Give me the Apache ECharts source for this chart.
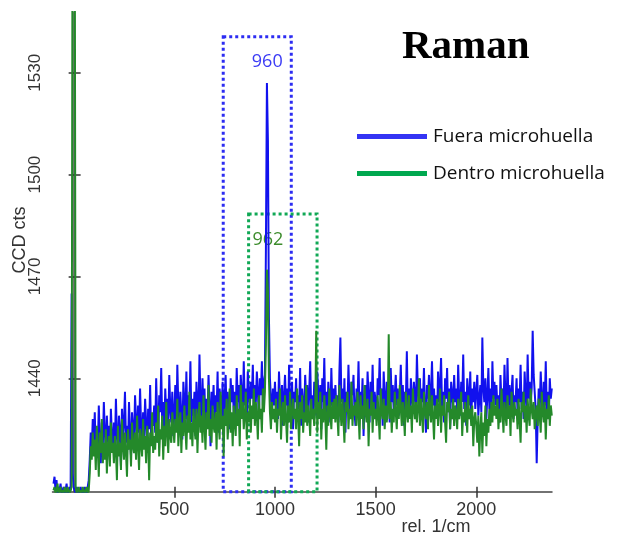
<!DOCTYPE html>
<html>
<head>
<meta charset="utf-8">
<script src="https://cdn.jsdelivr.net/npm/echarts@6/dist/echarts.min.js"></script>
<style>
  html, body { margin: 0; padding: 0; background: #fff; }
  #chart { width: 618px; height: 535px; }
</style>
</head>
<body>
<div id="chart"></div>
<script>
// 数据 波数从 -100 起, 每 5 rel. 1/cm 一个点, 每行 100 rel. 1/cm
const shiftStart = -100
const shiftStep = 5

// Fuera microhuella (蓝)
const fuera = [
  1409, 1411, 1407, 1410, 1406, 1408, 1407, 1409, 1406, 1407, 1408, 1406, 1407, 1409, 1406, 1407, 1408, 1407, 1465, 1412,
  1408, 1407, 1406, 1408, 1407, 1406, 1407, 1408, 1406, 1407, 1406, 1408, 1407, 1406, 1408, 1410, 1416, 1424, 1419, 1428,
  1421, 1430, 1417, 1425, 1419, 1432, 1422, 1415, 1427, 1420, 1433, 1424, 1418, 1429, 1421, 1426, 1416, 1431, 1423, 1419,
  1427, 1420, 1434, 1423, 1418, 1429, 1425, 1414, 1431, 1422, 1427, 1436, 1421, 1426, 1419, 1433, 1424, 1417, 1430, 1425,
  1421, 1435, 1428, 1419, 1432, 1424, 1437, 1426, 1420, 1430, 1423, 1434, 1427, 1418, 1431, 1425, 1438, 1422, 1429, 1426,
  1432, 1424, 1440, 1428, 1421, 1435, 1430, 1443, 1426, 1433, 1422, 1437, 1429, 1434, 1425, 1441, 1431, 1427, 1436, 1423,
  1430, 1438, 1425, 1444, 1432, 1427, 1436, 1429, 1422, 1439, 1433, 1428, 1442, 1426, 1435, 1431, 1445, 1427, 1434, 1429,
  1436, 1423, 1439, 1432, 1428, 1447, 1433, 1426, 1440, 1430, 1437, 1425, 1434, 1429, 1441, 1432, 1420, 1436, 1431, 1438,
  1427, 1435, 1430, 1442, 1424, 1437, 1433, 1429, 1439, 1426, 1434, 1441, 1428, 1436, 1431, 1425, 1440, 1433, 1438, 1430,
  1436, 1429, 1443, 1433, 1438, 1427, 1441, 1435, 1430, 1445, 1432, 1437, 1428, 1442, 1436, 1431, 1439, 1434, 1444, 1430,
  1438, 1433, 1442, 1436, 1429, 1440, 1435, 1445, 1432, 1439, 1441, 1478, 1527, 1510, 1458, 1440, 1434, 1430, 1437, 1432,
  1439, 1431, 1436, 1428, 1442, 1434, 1429, 1438, 1426, 1435, 1441, 1432, 1437, 1427, 1444, 1433, 1430, 1439, 1425, 1436,
  1433, 1440, 1428, 1435, 1431, 1443, 1426, 1437, 1432, 1429, 1441, 1434, 1438, 1427, 1436, 1445, 1430, 1435, 1428, 1439,
  1434, 1429, 1442, 1436, 1431, 1438, 1425, 1440, 1433, 1446, 1430, 1436, 1428, 1439, 1434, 1427, 1443, 1432, 1437, 1430,
  1438, 1431, 1435, 1427, 1442, 1452, 1433, 1437, 1429, 1440, 1424, 1436, 1431, 1444, 1433, 1428, 1439, 1435, 1441, 1430,
  1426, 1437, 1433, 1445, 1429, 1436, 1431, 1440, 1423, 1434, 1438, 1429, 1442, 1435, 1427, 1439, 1432, 1444, 1430, 1436,
  1433, 1428, 1440, 1435, 1446, 1431, 1437, 1426, 1442, 1434, 1429, 1439, 1432, 1436, 1427, 1443, 1433, 1438, 1430, 1435,
  1441, 1432, 1437, 1429, 1435, 1444, 1431, 1438, 1426, 1436, 1433, 1448, 1430, 1437, 1428, 1440, 1434, 1431, 1439, 1435,
  1430, 1447, 1436, 1432, 1440, 1428, 1437, 1433, 1443, 1431, 1424, 1438, 1434, 1441, 1429, 1436, 1445, 1432, 1437, 1430,
  1435, 1428, 1442, 1433, 1438, 1446, 1431, 1436, 1427, 1440, 1434, 1443, 1430, 1437, 1425, 1439, 1435, 1432, 1441, 1433,
  1437, 1430, 1444, 1434, 1429, 1439, 1433, 1447, 1431, 1436, 1426, 1440, 1435, 1432, 1442, 1428, 1437, 1433, 1439, 1431,
  1436, 1441, 1429, 1434, 1438, 1430, 1452, 1437, 1433, 1440, 1428, 1435, 1443, 1431, 1437, 1429, 1445, 1434, 1439, 1432,
  1438, 1431, 1435, 1427, 1441, 1433, 1437, 1430, 1444, 1434, 1429, 1446, 1432, 1438, 1430, 1436, 1441, 1428, 1435, 1433,
  1440, 1429, 1437, 1433, 1444, 1431, 1436, 1428, 1442, 1435, 1430, 1447, 1434, 1439, 1432, 1437, 1454, 1441, 1436, 1431,
  1415, 1428, 1437, 1431, 1442, 1434, 1429, 1439, 1432, 1445, 1430, 1436, 1428, 1440, 1434, 1437
]

// Dentro microhuella (绿)
const dentro = [
  1407, 1408, 1406, 1407, 1409, 1406, 1407, 1408, 1406, 1407, 1406, 1408, 1407, 1406, 1408, 1407, 1406, 1407, 1408, 1600,
  1600, 1600, 1408, 1406, 1407, 1408, 1406, 1407, 1406, 1408, 1407, 1406, 1407, 1408, 1406, 1407, 1412, 1420, 1416, 1424,
  1417, 1422, 1413, 1426, 1419, 1411, 1424, 1418, 1428, 1415, 1421, 1416, 1425, 1412, 1420, 1423, 1414, 1427, 1418, 1421,
  1415, 1423, 1419, 1410, 1426, 1417, 1421, 1413, 1428, 1420, 1416, 1424, 1418, 1411, 1425, 1419, 1422, 1414, 1427, 1420,
  1418, 1424, 1416, 1429, 1420, 1413, 1425, 1421, 1417, 1428, 1419, 1423, 1415, 1426, 1422, 1410, 1424, 1420, 1430, 1418,
  1423, 1419, 1427, 1421, 1432, 1417, 1425, 1422, 1429, 1416, 1426, 1420, 1433, 1424, 1418, 1428, 1423, 1421, 1430, 1425,
  1421, 1428, 1424, 1434, 1420, 1426, 1430, 1418, 1427, 1423, 1432, 1425, 1419, 1429, 1424, 1436, 1422, 1427, 1420, 1431,
  1426, 1422, 1431, 1418, 1428, 1433, 1424, 1429, 1421, 1435, 1426, 1419, 1430, 1425, 1438, 1423, 1428, 1421, 1432, 1426,
  1424, 1430, 1419, 1433, 1427, 1422, 1436, 1425, 1429, 1417, 1431, 1426, 1434, 1422, 1428, 1437, 1424, 1430, 1420, 1432,
  1427, 1423, 1435, 1426, 1431, 1420, 1438, 1428, 1433, 1425, 1429, 1436, 1422, 1430, 1427, 1434, 1424, 1432, 1428, 1437,
  1426, 1433, 1429, 1422, 1435, 1428, 1431, 1424, 1437, 1430, 1436, 1450, 1472, 1466, 1440, 1430, 1425, 1433, 1428, 1431,
  1427, 1434, 1424, 1431, 1429, 1437, 1422, 1430, 1433, 1426, 1435, 1428, 1421, 1432, 1427, 1436, 1425, 1430, 1434, 1428,
  1431, 1425, 1437, 1429, 1420, 1433, 1428, 1435, 1424, 1430, 1427, 1438, 1426, 1432, 1429, 1423, 1434, 1428, 1431, 1426,
  1431, 1454, 1424, 1433, 1428, 1436, 1422, 1431, 1427, 1435, 1429, 1419, 1432, 1426, 1437, 1430, 1425, 1433, 1428, 1434,
  1427, 1435, 1429, 1423, 1438, 1431, 1426, 1434, 1428, 1421, 1433, 1430, 1436, 1425, 1431, 1428, 1439, 1426, 1432, 1429,
  1433, 1426, 1436, 1430, 1422, 1435, 1428, 1432, 1425, 1438, 1430, 1427, 1434, 1420, 1431, 1429, 1436, 1424, 1433, 1428,
  1431, 1426, 1435, 1429, 1422, 1437, 1430, 1428, 1434, 1425, 1432, 1427, 1430, 1453, 1428, 1433, 1424, 1431, 1427, 1436,
  1430, 1425, 1434, 1428, 1438, 1431, 1426, 1433, 1429, 1423, 1436, 1430, 1427, 1435, 1428, 1432, 1424, 1437, 1431, 1428,
  1433, 1427, 1431, 1440, 1426, 1434, 1429, 1424, 1436, 1430, 1428, 1433, 1425, 1438, 1431, 1427, 1435, 1429, 1422, 1432,
  1428, 1434, 1426, 1431, 1437, 1424, 1432, 1429, 1435, 1427, 1421, 1433, 1430, 1436, 1425, 1431, 1428, 1434, 1426, 1432,
  1430, 1425, 1434, 1428, 1431, 1436, 1423, 1430, 1427, 1433, 1429, 1424, 1435, 1428, 1431, 1426, 1432, 1420, 1428, 1430,
  1426, 1421, 1429, 1417, 1425, 1430, 1418, 1427, 1423, 1432, 1420, 1428, 1424, 1431, 1426, 1433, 1427, 1435, 1429, 1432,
  1428, 1434, 1425, 1431, 1427, 1437, 1430, 1424, 1433, 1429, 1426, 1435, 1428, 1432, 1423, 1436, 1430, 1427, 1433, 1429,
  1431, 1425, 1434, 1428, 1421, 1433, 1430, 1436, 1427, 1432, 1424, 1434, 1429, 1426, 1437, 1431, 1428, 1433, 1425, 1430,
  1432, 1426, 1434, 1429, 1424, 1436, 1430, 1427, 1433, 1422, 1431, 1428, 1435, 1426, 1432, 1429
]

const xTicks = [500, 1000, 1500, 2000]
const yTicks = [1440, 1470, 1500, 1530]

// 虚线框 (峰位标注)
const boxFuera = { label: '960', x0: 743, x1: 1081, top: 1540.6 }
const boxDentro = { label: '962', x0: 869, x1: 1209, top: 1488.4 }

const xMin = -105
const xMax = 2376
const yMin = 1406.6
const yMax = 1547.9

const shift = fuera.map((_, i) => shiftStart + i * shiftStep)
const pairs = (ys) => ys.map((y, i) => [shift[i], y])

const myChart = echarts.init(document.querySelector('#chart'))

const axisFont = { fontFamily: 'Liberation Sans', color: '#333', formatter: (v) => String(v) }

const option = {
  backgroundColor: '#fff',
  animation: false,
  title: {
    text: 'Raman',
    left: 397,
    top: 22,
    textStyle: {
      fontFamily: 'Liberation Serif',
      fontWeight: 'bold',
      fontSize: 41,
      color: '#000'
    }
  },
  legend: {
    orient: 'vertical',
    left: 352,
    top: 122,
    icon: 'rect',
    itemWidth: 70,
    itemHeight: 5,
    itemGap: 18,
    textStyle: {
      fontFamily: 'Open Sans',
      fontSize: 19,
      color: '#111',
      padding: [0, 0, 0, 1]
    },
    data: [
      { name: 'Fuera microhuella', itemStyle: { color: '#3434f4' } },
      { name: 'Dentro microhuella', itemStyle: { color: '#00a84f' } }
    ]
  },
  grid: {
    left: 52.5,
    top: 12,
    right: 66,
    bottom: 43.3
  },
  xAxis: [
    {
      type: 'value',
      min: xMin,
      max: xMax,
      axisLine: { lineStyle: { color: '#444', width: 1.5 } },
      axisTick: { customValues: xTicks, length: 6, lineStyle: { color: '#333', width: 1.5 } },
      axisLabel: { customValues: xTicks, margin: 9, fontSize: 18, ...axisFont },
      splitLine: { show: false }
    },
    {
      // 内侧刻度
      type: 'value',
      min: xMin,
      max: xMax,
      position: 'bottom',
      axisLine: { show: false },
      axisTick: { inside: true, customValues: xTicks, length: 5, lineStyle: { color: '#333', width: 1.5 } },
      axisLabel: { show: false },
      splitLine: { show: false }
    }
  ],
  yAxis: [
    {
      type: 'value',
      min: yMin,
      max: yMax,
      axisLine: { show: true, lineStyle: { color: '#444', width: 1.5 } },
      axisTick: { show: true, customValues: yTicks, length: 5, lineStyle: { color: '#333', width: 1.5 } },
      axisLabel: { customValues: yTicks, rotate: 90, margin: 9, fontSize: 17, ...axisFont },
      splitLine: { show: false }
    },
    {
      type: 'value',
      min: yMin,
      max: yMax,
      position: 'left',
      axisLine: { show: false },
      axisTick: { show: true, inside: true, customValues: yTicks, length: 7, lineStyle: { color: '#333', width: 1.5 } },
      axisLabel: { show: false },
      splitLine: { show: false }
    }
  ],
  graphic: [
    {
      type: 'text',
      x: 20,
      y: 240,
      rotation: Math.PI / 2,
      style: { text: 'CCD cts', align: 'center', verticalAlign: 'middle', fontSize: 18, fontFamily: 'Liberation Sans', fill: '#333' }
    },
    {
      type: 'text',
      x: 436,
      y: 527,
      style: { text: 'rel. 1/cm', align: 'center', verticalAlign: 'middle', fontSize: 18, fontFamily: 'Liberation Sans', fill: '#333' }
    }
  ],
  series: [
    {
      name: 'Fuera microhuella',
      type: 'line',
      data: pairs(fuera),
      showSymbol: false,
      symbol: 'none',
      color: '#1111ee',
      lineStyle: { width: 2, color: '#1111ee' },
      markArea: {
        silent: true,
        itemStyle: { color: 'rgba(0,0,0,0)', borderColor: '#2d2df2', borderWidth: 3, borderType: [3, 3] },
        label: { show: true, position: 'insideTop', offset: [10, 13], color: '#3b3bf5', fontSize: 18, fontFamily: 'Open Sans' },
        data: [[
          { name: boxFuera.label, xAxis: boxFuera.x0, yAxis: boxFuera.top },
          { xAxis: boxFuera.x1, yAxis: yMin }
        ]]
      }
    },
    {
      name: 'Dentro microhuella',
      type: 'line',
      data: pairs(dentro),
      showSymbol: false,
      symbol: 'none',
      color: '#24892a',
      lineStyle: { width: 2, color: '#24892a' },
      markArea: {
        silent: true,
        itemStyle: { color: 'rgba(0,0,0,0)', borderColor: '#10a855', borderWidth: 3, borderType: [3, 3] },
        label: { show: true, position: 'insideTop', offset: [-15, 13], color: '#3c8c2c', fontSize: 18, fontFamily: 'Open Sans' },
        data: [[
          { name: boxDentro.label, xAxis: boxDentro.x0, yAxis: boxDentro.top },
          { xAxis: boxDentro.x1, yAxis: yMin }
        ]]
      }
    }
  ]
}

myChart.setOption(option)
</script>
</body>
</html>
